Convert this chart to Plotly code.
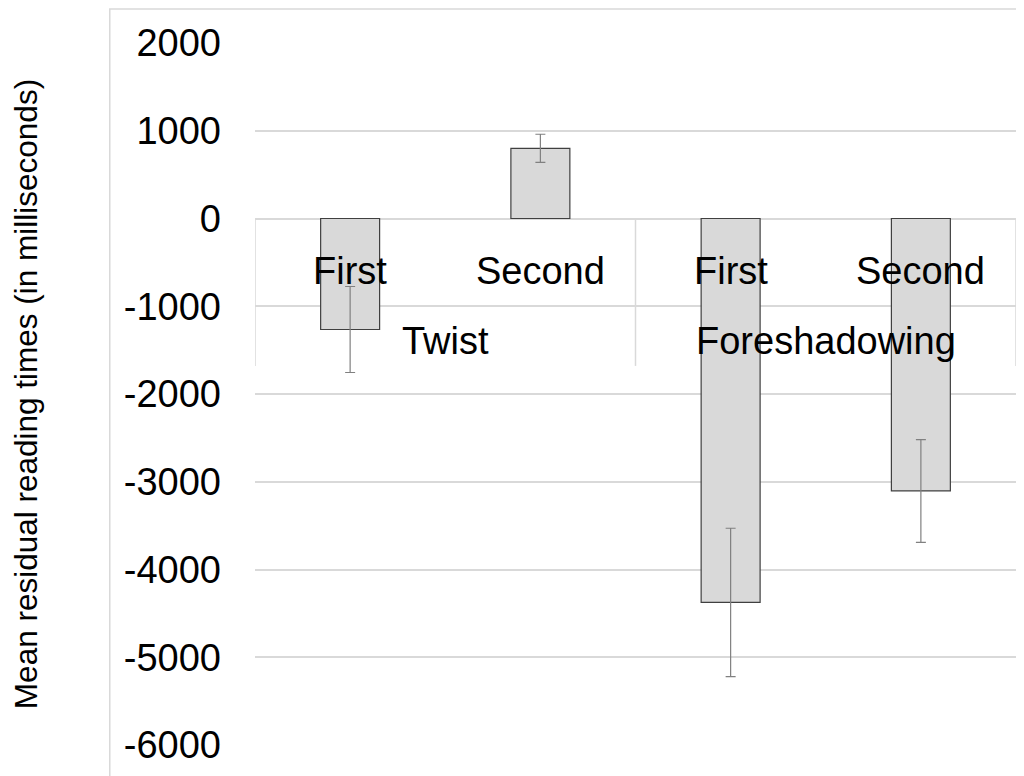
import plotly.graph_objects as go

groups = ["Twist", "Twist", "Foreshadowing", "Foreshadowing"]
conditions = ["First", "Second", "First", "Second"]
means = [-1265, 800, -4375, -3105]
errors = [490, 160, 845, 585]
y_ticks = [2000, 1000, 0, -1000, -2000, -3000, -4000, -5000, -6000]
y_title = "Mean residual reading times (in milliseconds)"

FONT = "Liberation Sans, Arial, sans-serif"
xs = list(range(len(conditions)))

# plot-area geometry in figure pixels (page body adds an 8px offset)
L, R, T, B = 243, 16, 35, 39
PW = 1024 - L - R
PH = 776 - T - B

fig = go.Figure()
fig.add_trace(go.Bar(
    x=xs, y=means,
    marker=dict(color="#d9d9d9", line=dict(color="#404040", width=1.2)),
    error_y=dict(type="data", array=errors, visible=True,
                 color="#808080", thickness=1.2, width=5),
    showlegend=False,
))

# level-1 labels (conditions)
for xi, c in zip(xs, conditions):
    fig.add_annotation(x=xi, y=0, xref="x", yref="y", text=c, showarrow=False,
                       yanchor="middle", yshift=-52,
                       font=dict(family=FONT, size=38, color="#000000"))

# level-2 labels (groups)
uniq = []
for g in groups:
    if g not in uniq:
        uniq.append(g)
for g in uniq:
    idx = [i for i, gg in enumerate(groups) if gg == g]
    center = sum(idx) / len(idx)
    fig.add_annotation(x=center, y=0, xref="x", yref="y", text=g, showarrow=False,
                       yanchor="middle", yshift=-122,
                       font=dict(family=FONT, size=38, color="#000000"))

# group divider lines of the category axis
bounds = [-0.5, 1.5, 3.5]
for b in bounds:
    fig.add_shape(type="line", x0=b, x1=b, y0=0, y1=-1680, xref="x", yref="y",
                  line=dict(color="#d9d9d9", width=1.5), layer="below")

# outer chart border
fig.add_shape(type="rect", xref="paper", yref="paper",
              x0=(97 - L) / PW, x1=1.05, y0=-0.1, y1=(776 - B - 1) / PH,
              line=dict(color="#d9d9d9", width=1.5), fillcolor="rgba(0,0,0,0)")

fig.update_layout(
    width=1024, height=776,
    margin=dict(l=L, r=R, t=T, b=B),
    paper_bgcolor="white", plot_bgcolor="white",
    bargap=0.69,
    font=dict(family=FONT, color="#000000"),
    xaxis=dict(range=[-0.5, 3.5], showticklabels=False, showgrid=False,
               zeroline=False, showline=False, ticks=""),
    yaxis=dict(range=[-6000, 2000], tickvals=y_ticks,
               ticktext=[str(v) for v in y_ticks],
               tickfont=dict(family=FONT, size=38, color="#000000"),
               showgrid=True, gridcolor="#d9d9d9", gridwidth=1.5,
               zeroline=True, zerolinecolor="#d9d9d9", zerolinewidth=1.5,
               showline=False, ticks="", ticklabelstandoff=33,
               title=dict(text=y_title, standoff=82,
                          font=dict(family=FONT, size=31.5, color="#000000"))),
)

fig.write_html("out.html")
